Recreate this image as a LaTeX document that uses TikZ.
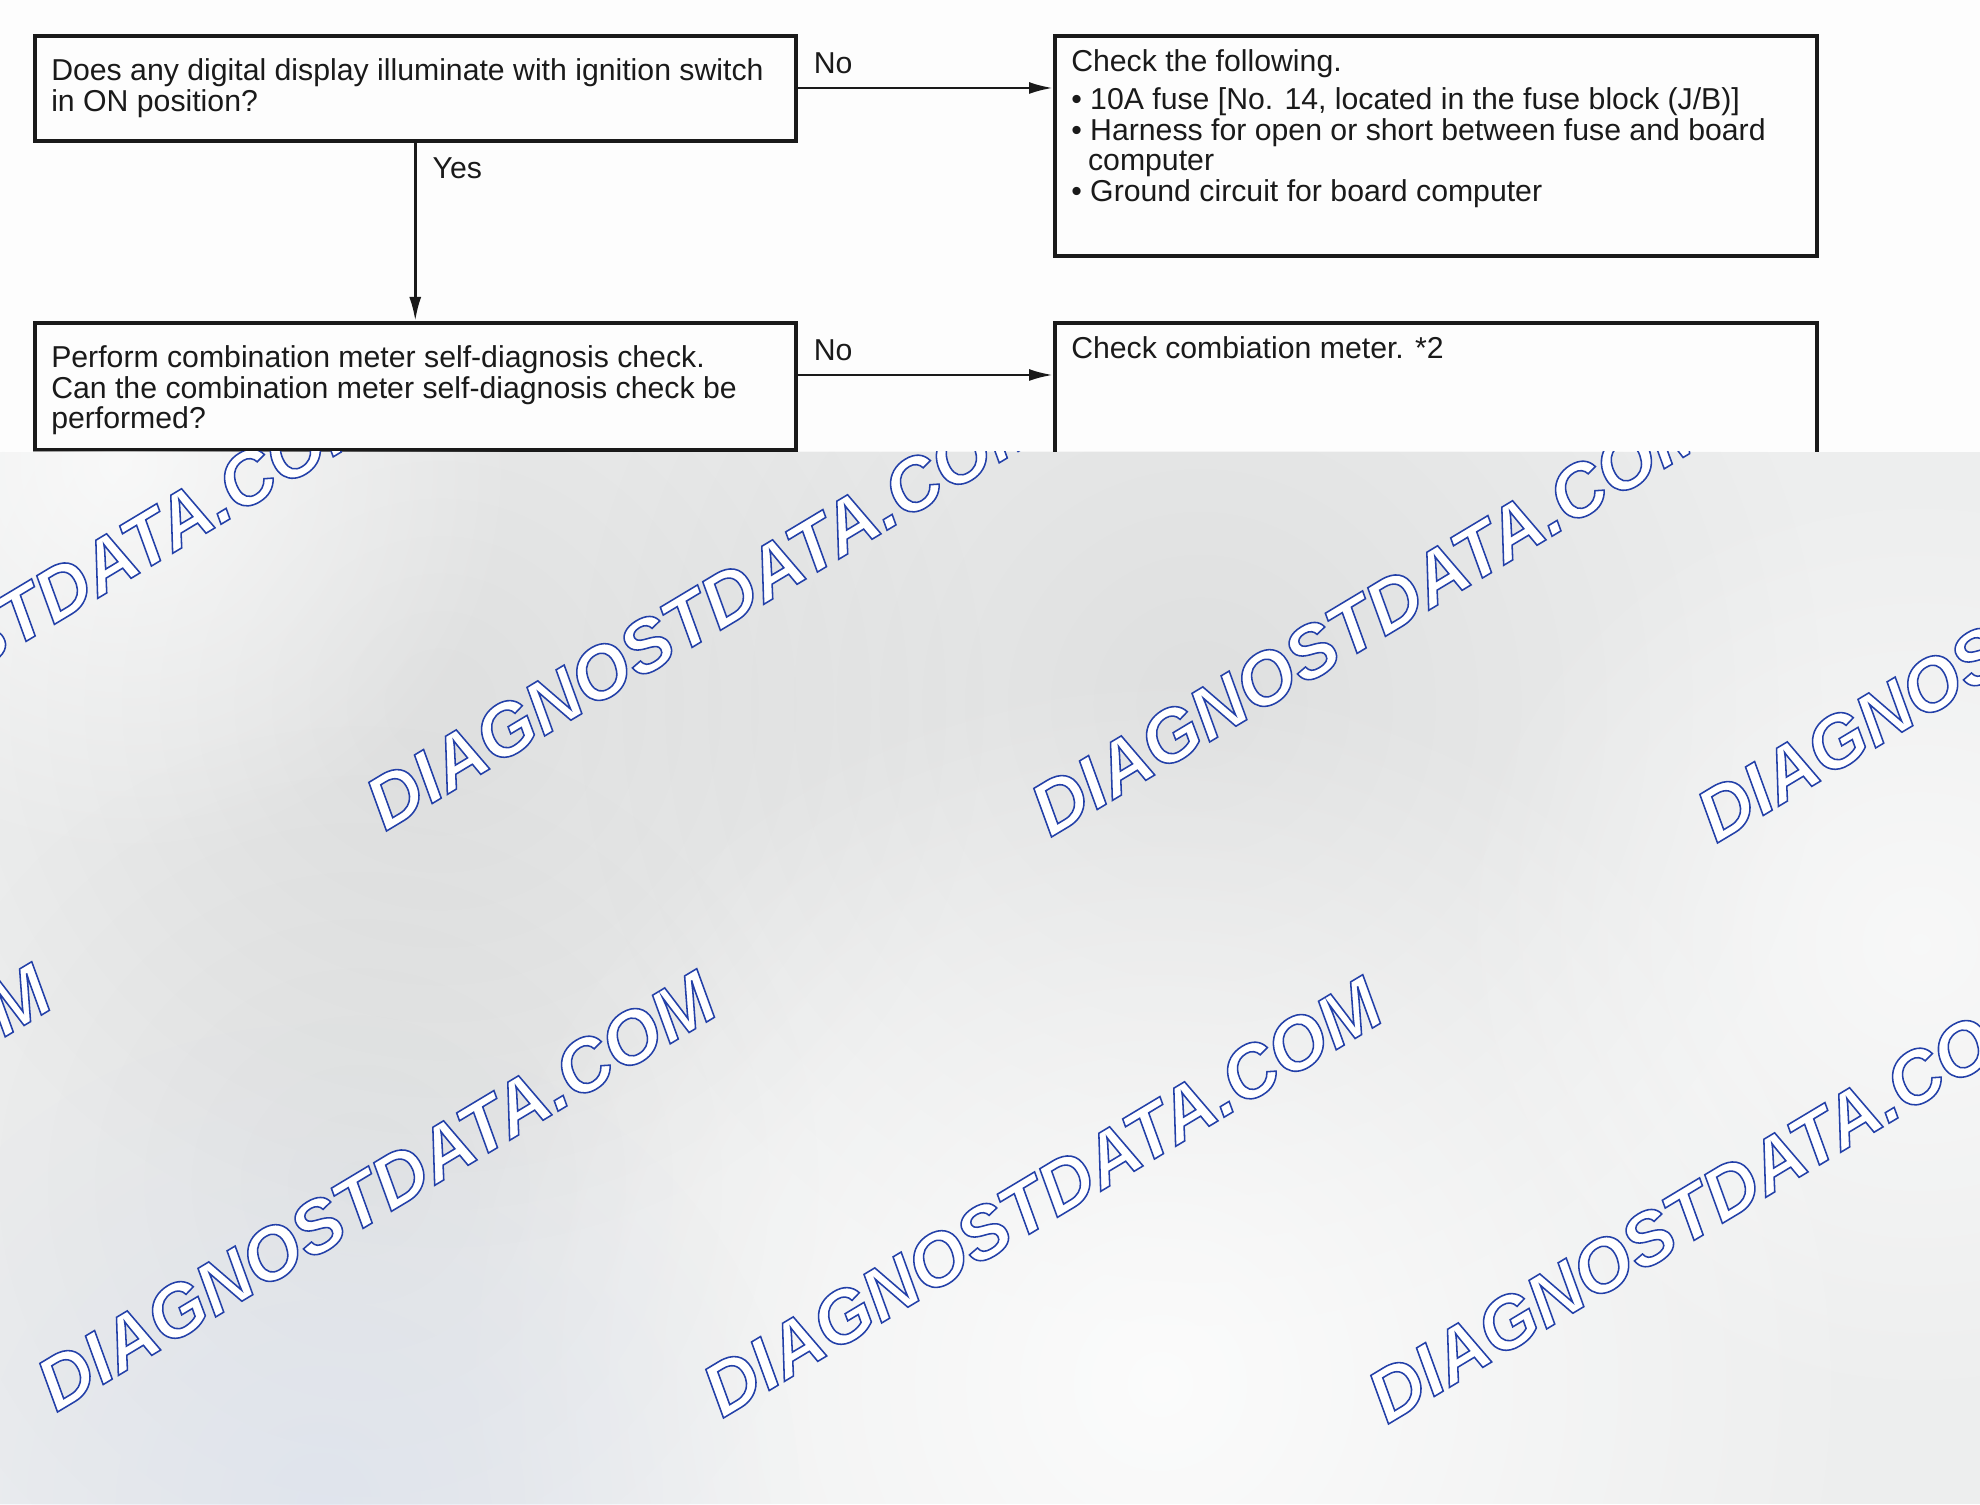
\documentclass[tikz,border=0pt]{standalone}
\usepackage{fontspec}
\setmainfont{Liberation Sans}
\usepackage{tikz}
\usetikzlibrary{arrows.meta}
\usetikzlibrary{fadings}
\tikzset{>={Latex[width=3mm,length=6mm]}}
\tikzfading[name=soft blot, inner color=transparent!0, outer color=transparent!100]
\usepackage{xcolor}
\definecolor{sheet}{HTML}{FDFDFD}
\definecolor{haze}{HTML}{EDEEEE}
\definecolor{hazeblue}{HTML}{DCE2EE}
\definecolor{ink}{HTML}{1A1A1A}
\definecolor{stamp}{HTML}{2340A8}
% white letters with a blue outline
\newcommand{\outlined}[1]{{\color{white}\special{pdf:literal direct 2 Tr 1.1 w 0.137 0.251 0.659 RG}#1\special{pdf:literal direct 0 Tr}}}
\tikzset{
	flowbox/.style={draw=ink, line width=2.5pt, inner sep=0pt, anchor=north west},
	flowtext/.style={anchor=north west, inner sep=0pt, align=left, text=ink, font=\fontsize{21.5}{21.6}\selectfont},
	flowline/.style={arrows=->, draw=ink, line width=1.9pt},
	answer/.style={text=ink, inner sep=0pt, font=\fontsize{21.5}{21.6}\selectfont},
	stamptext/.style={rotate=31, inner sep=0pt, font=\fontsize{52.5}{53}\selectfont\bfseries\itshape},
	blot/.style={path fading=soft blot}
}

\begin{document}
\begin{tikzpicture}
		\useasboundingbox (0,0) rectangle (49.5,37.6);
		\begin{scope}
			%page
			\fill [sheet] (0,0) rectangle (49.5,37.6);
			%boxes
			\node[flowbox, minimum width=19.025cm, minimum height=2.625cm] (display) at (0.825,36.75) {};
			\node[flowbox, minimum width=19.05cm, minimum height=5.5cm] (fuse) at (26.325,36.75) {};
			\node[flowbox, minimum width=19.025cm, minimum height=3.175cm] (selfdiag) at (0.825,29.575) {};
			\node[flowbox, minimum width=19.05cm, minimum height=6cm] (meter) at (26.325,29.575) {};
			%box texts
			\node[flowtext] (displaytext) at ([shift={(0.45,-0.62)}]display.north west) {Does any digital display illuminate with ignition switch\\in ON position?};
			\node[flowtext] (fusetext) at ([shift={(0.45,-0.385)}]fuse.north west) {Check the following.\\[0.2cm]
				\textbullet\ 10A fuse [No. 14, located in the fuse block (J/B)]\\
				\textbullet\ Harness for open or short between fuse and board\\
				\hspace*{0.42cm}computer\\
				\textbullet\ Ground circuit for board computer};
			\node[flowtext] (selfdiagtext) at ([shift={(0.45,-0.62)}]selfdiag.north west) {Perform combination meter self-diagnosis check.\\Can the combination meter self-diagnosis check be\\performed?};
			\node[flowtext] (metertext) at ([shift={(0.45,-0.385)}]meter.north west) {Check combiation meter. *2};
			%arrows
			\draw[flowline] ([yshift=-1.35cm]display.north east) -- ([yshift=-1.35cm]fuse.north west) node[answer, pos=0, anchor=south west, xshift=0.375cm, yshift=0.33cm] (nofirst) {No};
			\draw[flowline] (display.south) -- (selfdiag.north) node[answer, pos=0, anchor=north west, xshift=0.4cm, yshift=-0.35cm] (yesfirst) {Yes};
			\draw[flowline] ([yshift=-1.35cm]selfdiag.north east) -- ([yshift=-1.35cm]meter.north west) node[answer, pos=0, anchor=south west, xshift=0.375cm, yshift=0.33cm] (nosecond) {No};
		\end{scope}
		\begin{scope}
			\clip (0,0) rectangle (49.5,26.3);
			%grey haze
			\fill [haze] (0,0) rectangle (49.5,26.3);
			\fill [blot, black, opacity=0.06] (11,20) circle (14);
			\fill [blot, black, opacity=0.06] (30,20) circle (16);
			\fill [blot, black, opacity=0.04] (9,8) circle (12);
			\fill [blot, white, opacity=0.7] (3,26) circle (10);
			\fill [blot, white, opacity=0.8] (29,3) circle (18);
			\fill [blot, white, opacity=0.6] (48,14) circle (12);
			\fill [blot, hazeblue, opacity=0.7] (8,0) circle (12);
			%watermarks
			\foreach \x/\y [count=\i] in {0.975/22.5, 17.625/22.35, 34.25/22.2, 50.9/22.05, -7.225/8.0, 9.4/7.825, 26.05/7.675, 42.675/7.525}
				\node[stamptext] (stamp\i) at (\x,\y) {\outlined{DIAGNOSTDATA.COM}};
		\end{scope}
\end{tikzpicture}
\end{document}
